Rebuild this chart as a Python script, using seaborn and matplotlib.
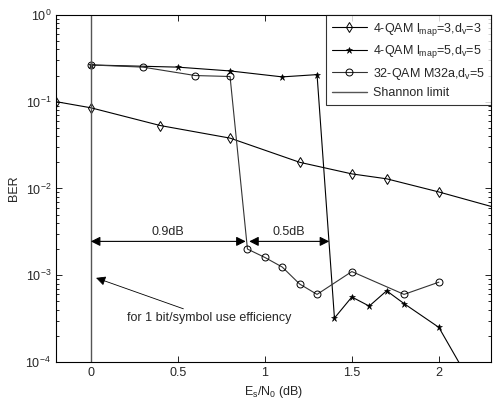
import numpy as np
import pandas as pd
import matplotlib
matplotlib.use("Agg")
import matplotlib.pyplot as plt
import seaborn as sns

# 4-QAM lmap=3, dv=3 (diamonds)
x_qam4_3 = [-0.2, 0.0, 0.4, 0.8, 1.2, 1.5, 1.7, 2.0, 2.5]
ber_qam4_3 = [0.1, 0.085, 0.053, 0.038, 0.020, 0.0147, 0.0129, 0.0091, 0.0048]

# 4-QAM lmap=5, dv=5 (stars)
x_qam4_5 = [0.0, 0.5, 0.8, 1.1, 1.3, 1.4, 1.5, 1.6, 1.7, 1.8, 2.0, 2.2]
ber_qam4_5 = [0.265, 0.25, 0.226, 0.193, 0.205, 3.2e-4, 5.6e-4, 4.4e-4, 6.6e-4, 4.7e-4, 2.5e-4, 5e-5]

# 32-QAM M32a, dv=5 (circles)
x_qam32 = [0.0, 0.3, 0.6, 0.8, 0.9, 1.0, 1.1, 1.2, 1.3, 1.5, 1.8, 2.0]
ber_qam32 = [0.265, 0.25, 0.20, 0.195, 2.0e-3, 1.6e-3, 1.24e-3, 7.9e-4, 6.0e-4, 1.1e-3, 6.0e-4, 8.3e-4]

shannon_x = 0.0
gap_y = 2.45e-3
gap_labels = ["0.9dB", "0.5dB"]
gap_x = [(0.0, 0.89), (0.91, 1.37)]
xticks = [0, 0.5, 1, 1.5, 2]

sns.set_style("white")
plt.rcParams['font.family'] = ['Liberation Sans', 'DejaVu Sans']
plt.rcParams['mathtext.default'] = 'regular'
plt.rcParams['font.size'] = 9

fig = plt.figure(figsize=(4.96, 4.03), dpi=100)
ax = fig.add_axes([0.113, 0.102, 0.877, 0.861])

lw = 0.8
sns.lineplot(x=x_qam4_3, y=ber_qam4_3, ax=ax, color='black', lw=lw, marker='d',
             markersize=5, markerfacecolor='none', markeredgecolor='black', markeredgewidth=0.7,
             label=r'4-QAM l$_{map}$=3,d$_v$=3', sort=False)
sns.lineplot(x=x_qam4_5, y=ber_qam4_5, ax=ax, color='black', lw=lw, marker='*',
             markersize=5, markerfacecolor='black', markeredgecolor='black', markeredgewidth=0.4,
             label=r'4-QAM l$_{map}$=5,d$_v$=5', sort=False)
sns.lineplot(x=x_qam32, y=ber_qam32, ax=ax, color='#333333', lw=lw, marker='o',
             markersize=5, markerfacecolor='none', markeredgecolor='black', markeredgewidth=0.7,
             label=r'32-QAM M32a,d$_v$=5', sort=False)
ax.axvline(shannon_x, color='#555555', lw=1.0, label='Shannon limit')

ax.set_yscale('log')
ax.set_xlim(-0.2, 2.3)
ax.set_ylim(1e-4, 1)
ax.set_xticks(xticks)
ax.xaxis.set_major_formatter(matplotlib.ticker.FormatStrFormatter('%g'))
ax.set_xlabel(r'E$_s$/N$_0$ (dB)')
ax.set_ylabel('BER')
ax.tick_params(which='both', direction='in', bottom=True, left=True, top=True, right=True,
               length=4, width=0.6, color='black')
ax.tick_params(which='minor', length=2)
ax.tick_params(axis='x', which='minor', bottom=False, top=False)
for s in ax.spines.values():
    s.set_linewidth(0.8)
    s.set_color('black')

# gap arrows
for (x0, x1), txt in zip(gap_x, gap_labels):
    ax.annotate('', xy=(x0, gap_y), xytext=(x1, gap_y),
                arrowprops=dict(arrowstyle='<|-|>', color='black', lw=0.8,
                                mutation_scale=14, shrinkA=0, shrinkB=0))
    ax.text((x0 + x1) / 2, gap_y * 1.08, txt, ha='center', va='bottom')

ax.annotate('for 1 bit/symbol use efficiency', xy=(0.03, 9.3e-4), xytext=(0.21, 3.2e-4),
            va='center', ha='left',
            arrowprops=dict(arrowstyle='-|>', color='black', lw=0.6, mutation_scale=14,
                            shrinkA=0, shrinkB=0))

leg = ax.legend(loc='upper right', frameon=True, fancybox=False, edgecolor='black',
                borderaxespad=0, handlelength=2.8, fontsize=9, labelspacing=0.45,
                borderpad=0.45, handletextpad=0.5)
leg.get_frame().set_linewidth(0.8)

fig.savefig('out.png', dpi=100)
